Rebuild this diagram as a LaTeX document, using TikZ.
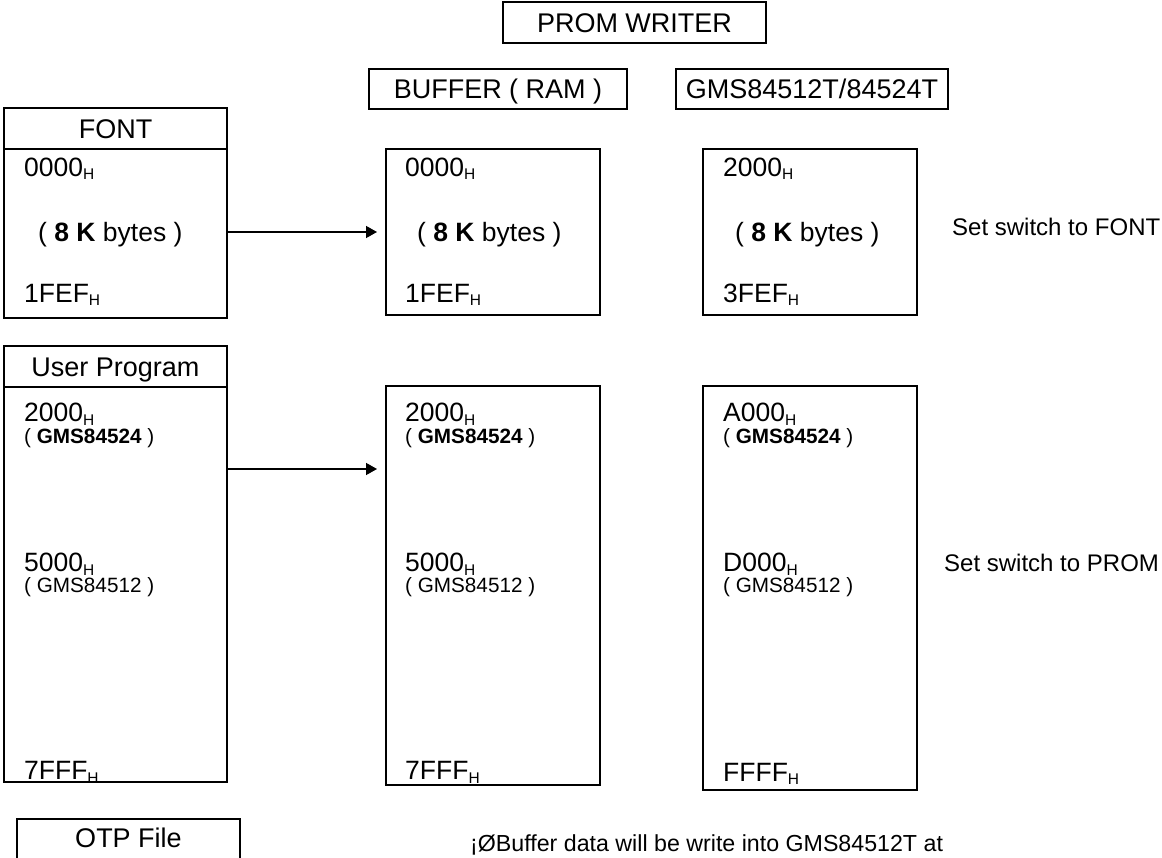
\documentclass[tikz,border=0pt]{standalone}
\usepackage{fontspec}
\setmainfont{Liberation Sans}
\usetikzlibrary{arrows.meta}
\newcommand\hx{\raisebox{-3.5pt}{\fontsize{15.5}{15.5}\selectfont H}}
\newcommand\bigf{\fontsize{26.5}{31}\selectfont}
\newcommand\hdrf{\fontsize{27}{32}\selectfont}
\newcommand\smallf{\fontsize{20.7}{24}\selectfont}
\newcommand\sidef{\fontsize{24}{28}\selectfont}
\newcommand\notef{\fontsize{23.2}{28}\selectfont}
\begin{document}
\begin{tikzpicture}[x=1pt,y=-1pt,
  frame/.style={draw, line width=1.5pt, inner sep=0pt, outer sep=0pt},
  hdr/.style={frame, font=\hdrf, text height=19.3pt, text depth=0pt},
  big/.style={anchor=base west, inner sep=0pt, font=\bigf},
  small/.style={anchor=base west, inner sep=0pt, font=\smallf},
  side/.style={anchor=base west, inner sep=0pt, font=\sidef},
  arr/.style={-{Triangle[length=11pt,width=12pt]}, line width=1.5pt, shorten >=9pt}]
\useasboundingbox (0,0) rectangle (1162,858);
\clip (0,0) rectangle (1162,858);
% top headers
\node[hdr, minimum width=263pt, minimum height=41pt] (prom) at (634.5,22.5) {PROM WRITER};
\node[hdr, minimum width=258pt, minimum height=40pt] (bufhdr) at (498,89) {BUFFER ( RAM )};
\node[hdr, minimum width=272pt, minimum height=40pt] (gmshdr) at (812,89) {GMS84512T/84524T};
% FONT block
\node[hdr, minimum width=223pt, minimum height=41pt] (fonthdr) at (115.5,128.5) {FONT};
\node[frame, minimum width=223pt, minimum height=169pt] (fontbody) at (115.5,233.5) {};
\node[frame, minimum width=214pt, minimum height=166pt] (buf1) at (493,232) {};
\node[frame, minimum width=214pt, minimum height=166pt] (gms1) at (810,232) {};
\node[big] (f1) at (24,176.5) {0000\hx};
\node[big] (f2) at (38,241.5) {( \textbf{8 K} bytes )};
\node[big] (f3) at (24,302.5) {1FEF\hx};
\node[big] (b1) at (405,176.5) {0000\hx};
\node[big] (b2) at (417,241.5) {( \textbf{8 K} bytes )};
\node[big] (b3) at (405,302.5) {1FEF\hx};
\node[big] (g1) at (723,176.5) {2000\hx};
\node[big] (g2) at (735,241.5) {( \textbf{8 K} bytes )};
\node[big] (g3) at (723,302.5) {3FEF\hx};
\node[side] (sw1) at (952,236) {Set switch to FONT};
\draw[arr] (fontbody.east |- buf1.west) -- (buf1.west);
% User program block
\node[hdr, minimum width=223pt, minimum height=41pt] (userhdr) at (115.5,366.5) {User Program};
\node[frame, minimum width=223pt, minimum height=395pt] (userbody) at (115.5,584.5) {};
\node[frame, minimum width=214pt, minimum height=399pt] (buf2) at (493,585.5) {};
\node[frame, minimum width=214pt, minimum height=404pt] (gms2) at (810,588) {};
\node[big] (u1) at (24,421.5) {2000\hx};
\node[small] (u2) at (24,443.5) {( \textbf{GMS84524} )};
\node[big] (u3) at (24,571.5) {5000\hx};
\node[small] (u4) at (24,592.5) {( GMS84512 )};
\node[big] (u5) at (24,779.5) {7FFF\hx};
\node[big] (c1) at (405,421.5) {2000\hx};
\node[small] (c2) at (405,443.5) {( \textbf{GMS84524} )};
\node[big] (c3) at (405,571.5) {5000\hx};
\node[small] (c4) at (405,592.5) {( GMS84512 )};
\node[big] (c5) at (405,779.5) {7FFF\hx};
\node[big] (d1) at (723,421.5) {A000\hx};
\node[small] (d2) at (723,443.5) {( \textbf{GMS84524} )};
\node[big] (d3) at (723,571.5) {D000\hx};
\node[small] (d4) at (723,592.5) {( GMS84512 )};
\node[big] (d5) at (723,781) {FFFF\hx};
\node[side] (sw2) at (944,571) {Set switch to PROM};
\coordinate (a2) at (227,469);
\draw[arr] (a2) -- (a2 -| buf2.west);
% bottom
\node[hdr, minimum width=223pt, minimum height=51pt, text depth=13pt] (otp) at (128.5,844.5) {OTP File};
\node[anchor=base west, inner sep=0pt, font=\notef] (note) at (470,851) {¡ØBuffer data will be write into GMS84512T at};
\end{tikzpicture}
\end{document}
